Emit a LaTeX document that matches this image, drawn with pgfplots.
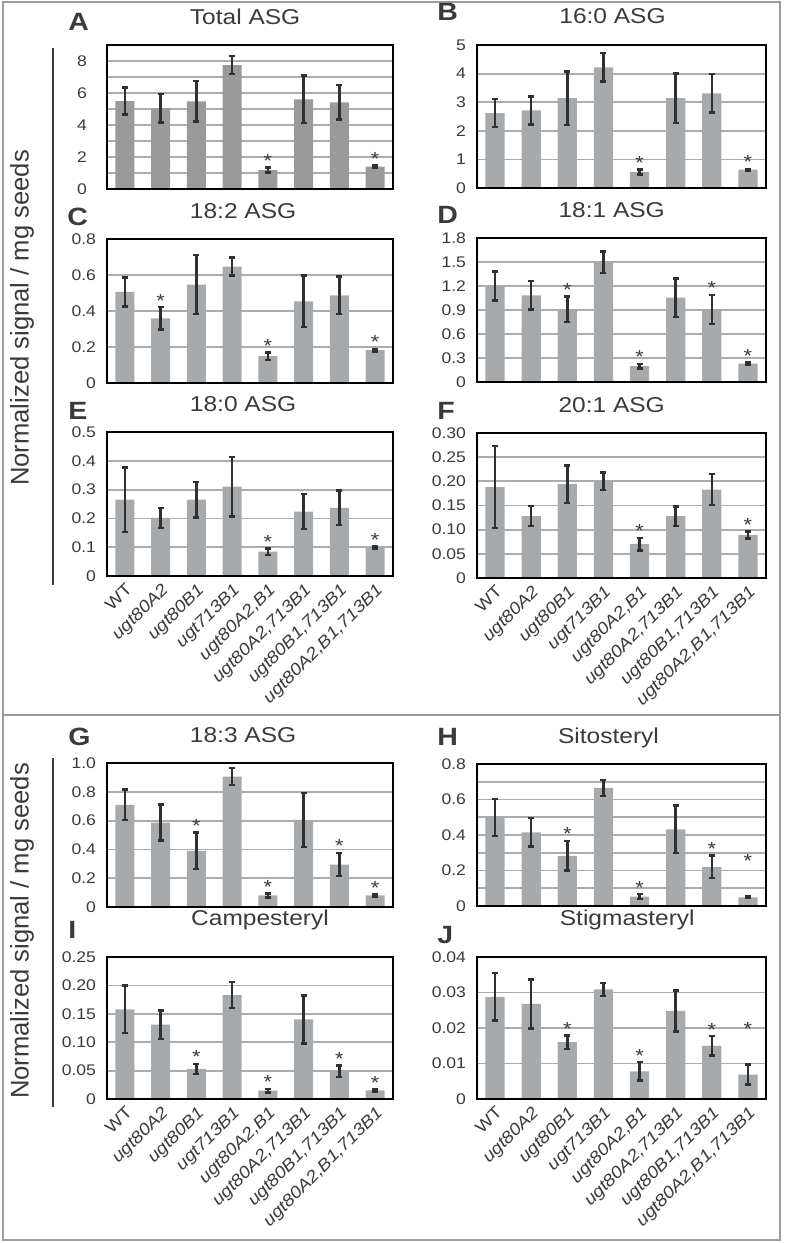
\documentclass[border=0pt]{standalone}
\usepackage{pgfplots}
\pgfplotsset{compat=1.18}
\usepackage{fontspec}
\setmainfont{Liberation Sans}[FakeStretch=1.14]
\newfontfamily\plainsans{Liberation Sans}
\definecolor{barA}{HTML}{9A9A9A}
\definecolor{barB}{HTML}{A7AAAC}
\definecolor{gridc}{HTML}{AAACAE}
\definecolor{errc}{HTML}{303030}
\definecolor{framec}{HTML}{9C9C9C}
\definecolor{txt}{HTML}{3A3A3A}
\pgfplotsset{
  panel/.style={scale only axis, anchor=south west, xmin=-0.5, xmax=7.5, ymin=0,
    xtick={0,...,7}, xticklabels={}, major tick length=0pt, minor tick length=0pt,
    scaled y ticks=false,
    ymajorgrids, yminorgrids,
    major grid style={line width=0.9pt, draw=gridc},
    minor grid style={line width=0.9pt, draw=gridc},
    axis line style={line width=1.1pt, draw=black},
    yticklabel style={font=\fontsize{7.7}{9}\selectfont, text=txt, xshift=-2pt},
    title style={font=\fontsize{10.75}{12}\selectfont, text=txt, anchor=base, yshift=4.5pt},
    clip=false},
  names/.style={xticklabels={WT, {\textit{ugt80A2}}, {\textit{ugt80B1}}, {\textit{ugt713B1}}, {\textit{ugt80A2,B1}}, {\textit{ugt80A2,713B1}}, {\textit{ugt80B1,713B1}}, {\textit{ugt80A2,B1,713B1}}},
    xticklabel style={rotate=45, anchor=north east, inner sep=2pt, font=\fontsize{8.4}{10}\selectfont, text=txt}},
  bars/.style={ybar, bar shift=0pt, bar width=0.53, fill=#1, draw=none,
    error bars/.cd, y dir=both, y explicit,
    error bar style={line width=1.2pt, draw=errc},
    error mark options={rotate=90, mark size=1.5pt, line width=1.2pt, draw=errc}},
  stars/.style={ybar, bar shift=0pt, bar width=0.05, draw=none, fill=none,
    nodes near coords={*},
    every node near coord/.append style={anchor=south, yshift=-3.5pt, font=\fontsize{9.5}{10}\selectfont, text=txt}},
}
\newcommand{\bottomline}{\draw[line width=1.1pt, black] (rel axis cs:0,0) -- (rel axis cs:1,0);}
\begin{document}
\begin{tikzpicture}
\path[use as bounding box] (0,0) rectangle (393.5pt,-621.5pt);
\draw[framec, line width=0.6pt] (1.5pt,-1pt) rectangle (390pt,-620pt);
\draw[framec, line width=0.6pt] (1.5pt,-357.5pt) -- (390pt,-357.5pt);
% y labels
\node[rotate=90, font=\plainsans\fontsize{12.8}{14}\selectfont, text=txt] at (11pt,-159pt) {Normalized signal / mg seeds};
\node[rotate=90, font=\plainsans\fontsize{12.8}{14}\selectfont, text=txt] at (11pt,-465.5pt) {Normalized signal / mg seeds};
\draw[line width=1pt, txt] (26.5pt,-24pt) -- (26.5pt,-292.5pt);
\draw[line width=1pt, txt] (26.5pt,-379pt) -- (26.5pt,-553.5pt);
% panel letters
\foreach \l/\x/\y in {A/34/15, B/218.5/10, C/33.5/112.5, D/218.5/111.5, E/34/209.5, F/218.5/209.5, G/34/372.5, H/218.5/372.5, I/34/469, J/218.5/471.5}
  \node[anchor=base west, inner sep=0pt, font=\bfseries\fontsize{12.5}{14}\selectfont, text=txt] at (\x pt,-\y pt) {\l};

% A
\begin{axis}[panel, at={(53.5pt,-94.5pt)}, width=143pt, height=72pt, ymax=9,
  ytick={0,2,4,6,8}, minor ytick={1,3,5,7}, yticklabels={0,2,4,6,8},
  yticklabel style={xshift=-4.5pt},
  title={Total ASG}, title style={at={(0.483,1)}}]
\addplot[bars=barA] coordinates {(0,5.5)+-(0,0.85) (1,5.04)+-(0,0.88) (2,5.48)+-(0,1.27) (3,7.75)+-(0,0.58) (4,1.18)+-(0,0.16) (5,5.6)+-(0,1.49) (6,5.42)+-(0,1.07) (7,1.4)+-(0,0.06)};
\addplot[stars] coordinates {(4,1.34) (7,1.46)};
\bottomline
\end{axis}
% B
\begin{axis}[panel, at={(238.5pt,-94pt)}, width=144.5pt, height=71.5pt, ymax=5,
  ytick={0,1,2,3,4,5}, yticklabels={0,1,2,3,4,5},
  title={16:0 ASG}, title style={at={(0.469,1)}}]
\addplot[bars=barB] coordinates {(0,2.62)+-(0,0.49) (1,2.71)+-(0,0.49) (2,3.14)+-(0,0.93) (3,4.22)+-(0,0.49) (4,0.56)+-(0,0.09) (5,3.14)+-(0,0.86) (6,3.31)+-(0,0.67) (7,0.64)+-(0,0.03)};
\addplot[stars] coordinates {(4,0.65) (7,0.67)};
\bottomline
\end{axis}
% C
\begin{axis}[panel, at={(53.5pt,-191.5pt)}, width=143pt, height=72pt, ymax=0.8,
  ytick={0,0.2,0.4,0.6,0.8}, yticklabels={0,0.2,0.4,0.6,0.8},
  title={18:2 ASG}, title style={at={(0.476,1)}}]
\addplot[bars=barB] coordinates {(0,0.506)+-(0,0.08) (1,0.359)+-(0,0.062) (2,0.547)+-(0,0.165) (3,0.647)+-(0,0.05) (4,0.149)+-(0,0.02) (5,0.454)+-(0,0.143) (6,0.487)+-(0,0.105) (7,0.182)+-(0,0.007)};
\addplot[stars] coordinates {(1,0.421) (4,0.169) (7,0.189)};
\bottomline
\end{axis}
% D
\begin{axis}[panel, at={(238.5pt,-191pt)}, width=144.5pt, height=72pt, ymax=1.8,
  ytick={0,0.3,0.6,0.9,1.2,1.5,1.8}, yticklabels={0,0.3,0.6,0.9,1.2,1.5,1.8},
  title={18:1 ASG}, title style={at={(0.466,1)}}]
\addplot[bars=barB] coordinates {(0,1.2)+-(0,0.18) (1,1.084)+-(0,0.18) (2,0.908)+-(0,0.16) (3,1.498)+-(0,0.135) (4,0.197)+-(0,0.03) (5,1.055)+-(0,0.24) (6,0.908)+-(0,0.18) (7,0.23)+-(0,0.012)};
\addplot[stars] coordinates {(2,1.068) (4,0.227) (6,1.088) (7,0.242)};
\bottomline
\end{axis}
% E
\begin{axis}[panel, names, at={(53.5pt,-288pt)}, width=143pt, height=72pt, ymax=0.5,
  ytick={0,0.1,0.2,0.3,0.4,0.5}, yticklabels={0,0.1,0.2,0.3,0.4,0.5},
  title={18:0 ASG}, title style={at={(0.476,1)}}]
\addplot[bars=barB] coordinates {(0,0.265)+-(0,0.112) (1,0.202)+-(0,0.035) (2,0.265)+-(0,0.062) (3,0.31)+-(0,0.104) (4,0.085)+-(0,0.011) (5,0.224)+-(0,0.06) (6,0.237)+-(0,0.06) (7,0.099)+-(0,0.004)};
\addplot[stars] coordinates {(4,0.096) (7,0.103)};
\bottomline
\end{axis}
% F
\begin{axis}[panel, names, at={(238.5pt,-289pt)}, width=144.5pt, height=72.5pt, ymax=0.30,
  ytick={0,0.05,0.1,0.15,0.2,0.25,0.3}, yticklabels={0,0.05,0.10,0.15,0.20,0.25,0.30},
  title={20:1 ASG}, title style={at={(0.466,1)}}]
\addplot[bars=barB] coordinates {(0,0.188)+-(0,0.085) (1,0.128)+-(0,0.021) (2,0.194)+-(0,0.039) (3,0.2)+-(0,0.018) (4,0.07)+-(0,0.013) (5,0.128)+-(0,0.02) (6,0.183)+-(0,0.032) (7,0.089)+-(0,0.007)};
\addplot[stars] coordinates {(4,0.083) (7,0.096)};
\bottomline
\end{axis}
% G
\begin{axis}[panel, at={(53.5pt,-453.5pt)}, width=143pt, height=72pt, ymax=1.0,
  ytick={0,0.2,0.4,0.6,0.8,1.0}, yticklabels={0,0.2,0.4,0.6,0.8,1.0},
  title={18:3 ASG}, title style={at={(0.476,1)}}]
\addplot[bars=barB] coordinates {(0,0.71)+-(0,0.105) (1,0.586)+-(0,0.125) (2,0.39)+-(0,0.128) (3,0.906)+-(0,0.06) (4,0.081)+-(0,0.014) (5,0.605)+-(0,0.187) (6,0.295)+-(0,0.08) (7,0.081)+-(0,0.007)};
\addplot[stars] coordinates {(2,0.518) (4,0.095) (6,0.375) (7,0.088)};
\bottomline
\end{axis}
% H
\begin{axis}[panel, at={(238.5pt,-453pt)}, width=144.5pt, height=71pt, ymax=0.8,
  ytick={0,0.2,0.4,0.6,0.8}, minor ytick={0.1,0.3,0.5,0.7}, yticklabels={0,0.2,0.4,0.6,0.8},
  title={Sitosteryl}, title style={at={(0.455,1)}}]
\addplot[bars=barB] coordinates {(0,0.499)+-(0,0.105) (1,0.415)+-(0,0.08) (2,0.283)+-(0,0.083) (3,0.665)+-(0,0.045) (4,0.053)+-(0,0.013) (5,0.432)+-(0,0.135) (6,0.221)+-(0,0.063) (7,0.049)+-(0,0.004)};
\addplot[stars] coordinates {(2,0.366) (4,0.066) (6,0.284) (7,0.215)};
\bottomline
\end{axis}
% I
\begin{axis}[panel, names, at={(53.5pt,-549.5pt)}, width=143pt, height=71pt, ymax=0.25,
  ytick={0,0.05,0.1,0.15,0.2,0.25}, yticklabels={0,0.05,0.10,0.15,0.20,0.25},
  title={Campesteryl}, title style={at={(0.535,1)}, yshift=5.5pt}]
\addplot[bars=barB] coordinates {(0,0.158)+-(0,0.042) (1,0.131)+-(0,0.025) (2,0.053)+-(0,0.009) (3,0.183)+-(0,0.023) (4,0.0147)+-(0,0.003) (5,0.14)+-(0,0.042) (6,0.049)+-(0,0.01) (7,0.015)+-(0,0.002)};
\addplot[stars] coordinates {(2,0.062) (4,0.0177) (6,0.059) (7,0.017)};
\bottomline
\end{axis}
% J
\begin{axis}[panel, names, at={(238.5pt,-549.5pt)}, width=144.5pt, height=71pt, ymax=0.04,
  ytick={0,0.01,0.02,0.03,0.04}, yticklabels={0,0.01,0.02,0.03,0.04},
  title={Stigmasteryl}, title style={at={(0.52,1)}, yshift=5.5pt}]
\addplot[bars=barB] coordinates {(0,0.0288)+-(0,0.0067) (1,0.0268)+-(0,0.0069) (2,0.016)+-(0,0.0019) (3,0.0309)+-(0,0.0018) (4,0.0078)+-(0,0.0026) (5,0.0248)+-(0,0.0058) (6,0.015)+-(0,0.0027) (7,0.0069)+-(0,0.0028)};
\addplot[stars] coordinates {(2,0.0179) (4,0.0104) (6,0.0177) (7,0.0178)};
\bottomline
\end{axis}
\end{tikzpicture}
\end{document}
